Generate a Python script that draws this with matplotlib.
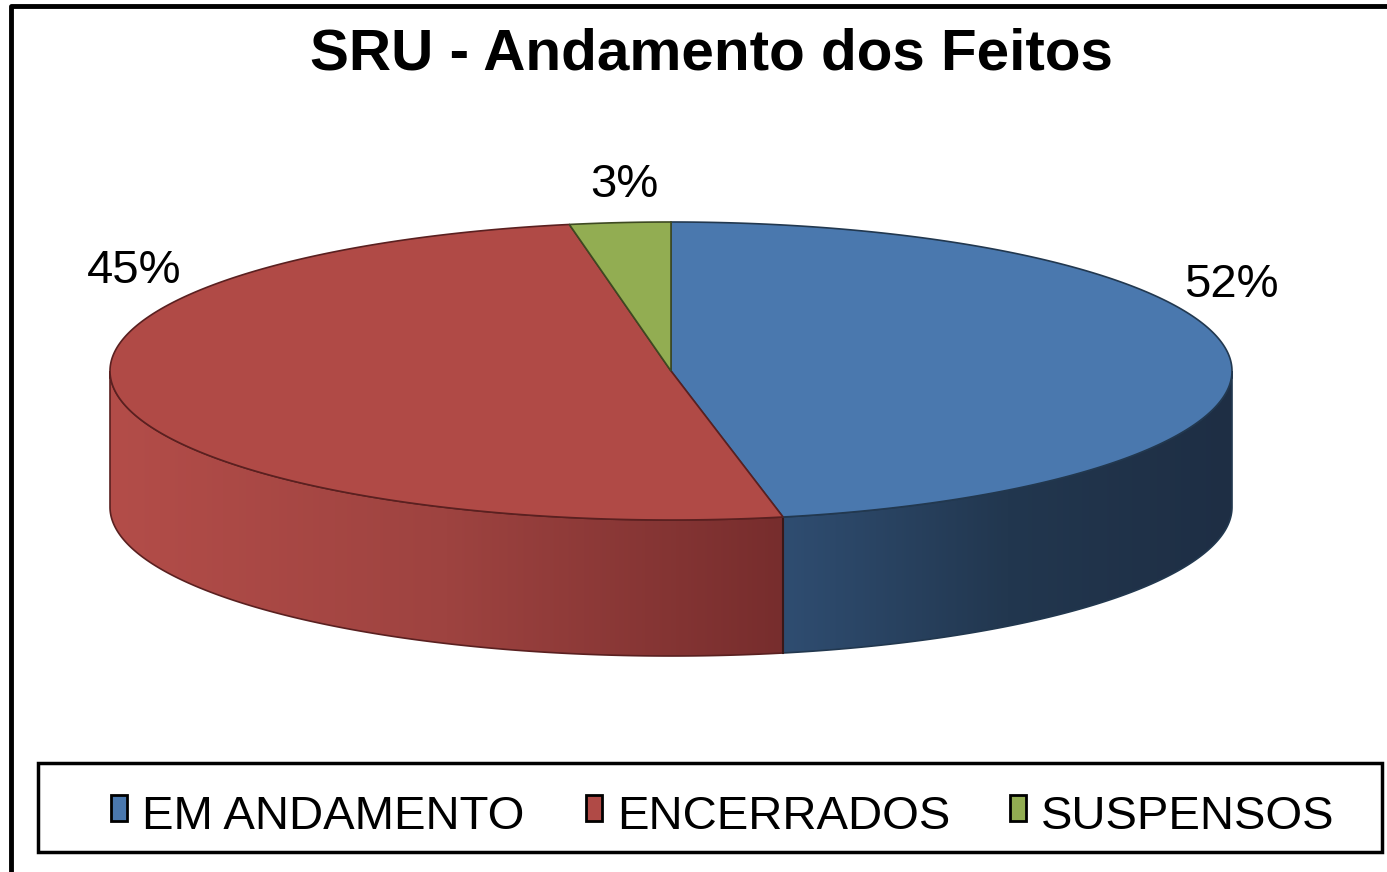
import numpy as np
import matplotlib.pyplot as plt
from matplotlib.patches import Polygon, Rectangle
from matplotlib.colors import LinearSegmentedColormap

# dados
categorias = ['EM ANDAMENTO', 'ENCERRADOS', 'SUSPENSOS']
rotulos = ['52%', '45%', '3%']               # rótulos impressos no gráfico
fatias = [46.8, 50.3, 2.9]                   # tamanho das fatias como desenhadas (%)
cores_topo = ['#4A78AE', '#B04A46', '#92AD52']
cores_lado = [['#2F4D71', '#22374F', '#1E2E44'],
              ['#B34D49', '#9E4340', '#772D2D'],
              ['#6E8540', '#5A6C34', '#4A592B']]
cores_borda = ['#22384F', '#5A2020', '#3E4A22']

plt.rcParams['font.family'] = ['Liberation Sans', 'DejaVu Sans']

W, H = 1387, 872
fig = plt.figure(figsize=(W / 100, H / 100), dpi=100)
ax = fig.add_axes([0, 0, 1, 1])
ax.set_xlim(0, W)
ax.set_ylim(H, 0)
ax.axis('off')

# moldura externa
ax.plot([11, 11, W + 5], [H + 5, 6, 6], color='black', lw=3.5, clip_on=False)

# geometria da pizza
cx, cy, a, b, h = 671, 371, 561, 149, 136


def pt(t, dy=0.0):
    t = np.radians(t)
    return cx + a * np.sin(t), cy - b * np.cos(t) + dy


limites = np.concatenate([[0], np.cumsum(fatias) / np.sum(fatias) * 360])

# paredes laterais (só a metade da frente aparece), com degradê
grad = np.linspace(0, 1, 256).reshape(1, -1)
for i in range(len(fatias)):
    lo, hi = max(limites[i], 90), min(limites[i + 1], 270)
    if hi <= lo:
        continue
    ts = np.linspace(lo, hi, 200)
    xs, ys = pt(ts)
    xb, yb = pt(ts[::-1], h)
    verts = np.column_stack([np.concatenate([xs, xb]), np.concatenate([ys, yb])])
    poly = Polygon(verts, closed=True, facecolor='none',
                   edgecolor=cores_borda[i], lw=1.2, zorder=3)
    ax.add_patch(poly)
    cmap = LinearSegmentedColormap.from_list('lado%d' % i, cores_lado[i])
    im = ax.imshow(grad, cmap=cmap, aspect='auto', zorder=2,
                   extent=[verts[:, 0].min(), verts[:, 0].max(),
                           verts[:, 1].max(), verts[:, 1].min()])
    im.set_clip_path(poly)

# aresta vertical entre fatias na parede
for t in limites[1:-1]:
    if 90 < t < 270:
        x, y = pt(t)
        ax.plot([x, x], [y, y + h], color='#3A1818', lw=1.5, zorder=4)

# face superior
for i in range(len(fatias)):
    ts = np.linspace(limites[i], limites[i + 1], 300)
    xs, ys = pt(ts)
    verts = np.column_stack([np.concatenate([[cx], xs]), np.concatenate([[cy], ys])])
    ax.add_patch(Polygon(verts, closed=True, facecolor=cores_topo[i],
                         edgecolor=cores_borda[i], lw=1.2, zorder=5))

# rótulos de porcentagem
pos_rotulos = [(1231, 297), (134, 283), (624, 197)]
for txt, (x, y) in zip(rotulos, pos_rotulos):
    ax.text(x, y, txt, fontsize=34, ha='center', va='baseline', zorder=6)

# título
ax.text(711, 70, 'SRU - Andamento dos Feitos', fontsize=42, fontweight='bold',
        ha='center', va='baseline')

# legenda
ax.add_patch(Rectangle((38, 763), 1344, 89, facecolor='white',
                       edgecolor='black', lw=2.5, zorder=6))
pos_leg = [111, 586, 1010]
for cat, cor, x in zip(categorias, cores_topo, pos_leg):
    ax.add_patch(Rectangle((x, 795), 16, 26, facecolor=cor,
                           edgecolor='black', lw=2, zorder=7))
    ax.text(x + 31, 829, cat, fontsize=34, ha='left', va='baseline', zorder=7)

fig.savefig('out.png', dpi=100)
